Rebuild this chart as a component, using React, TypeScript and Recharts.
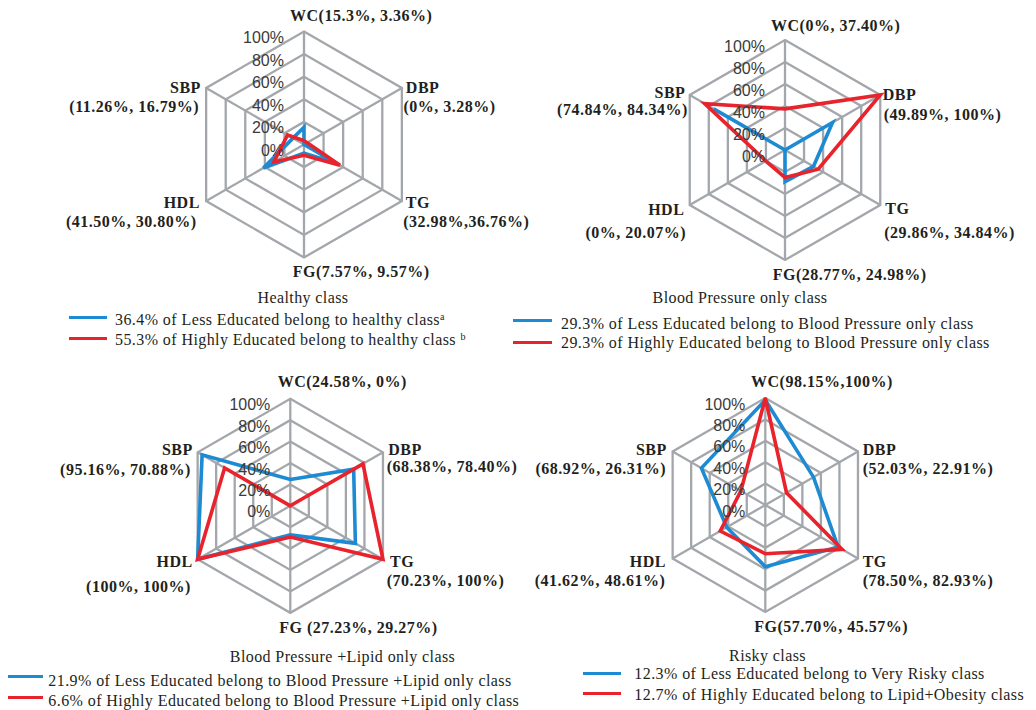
import React from 'react';
import { RadarChart, Radar, PolarGrid, PolarAngleAxis, PolarRadiusAxis, Legend } from 'recharts';

// ---------- data ----------
const axes = ['WC', 'DBP', 'TG', 'FG', 'HDL', 'SBP'];

const healthyLess = [15.3, 0, 32.98, 7.57, 41.5, 11.26];
const healthyHigh = [3.36, 3.28, 36.76, 9.57, 30.8, 16.79];
const bpLess = [0, 49.89, 29.86, 28.77, 0, 74.84];
const bpHigh = [37.4, 100, 34.84, 24.98, 20.07, 84.34];
const bplLess = [24.58, 68.38, 70.23, 27.23, 100, 95.16];
const bplHigh = [0, 78.4, 100, 29.27, 100, 70.88];
const riskyLess = [98.15, 52.03, 78.5, 57.7, 41.62, 68.92];
const riskyHigh = [100, 22.91, 82.93, 45.57, 48.61, 26.31];

const healthyLabels = [['WC(15.3%, 3.36%)'], ['DBP', '(0%, 3.28%)'], ['TG', '(32.98%,36.76%)'], ['FG(7.57%, 9.57%)'], ['HDL', '(41.50%, 30.80%)'], ['SBP', '(11.26%, 16.79%)']];
const bpLabels = [['WC(0%, 37.40%)'], ['DBP', '(49.89%, 100%)'], ['TG', '(29.86%, 34.84%)'], ['FG(28.77%, 24.98%)'], ['HDL', '(0%, 20.07%)'], ['SBP', '(74.84%, 84.34%)']];
const bplLabels = [['WC(24.58%, 0%)'], ['DBP', '(68.38%, 78.40%)'], ['TG', '(70.23%, 100%)'], ['FG (27.23%, 29.27%)'], ['HDL', '(100%, 100%)'], ['SBP', '(95.16%, 70.88%)']];
const riskyLabels = [['WC(98.15%,100%)'], ['DBP', '(52.03%, 22.91%)'], ['TG', '(78.50%, 82.93%)'], ['FG(57.70%, 45.57%)'], ['HDL', '(41.62%, 48.61%)'], ['SBP', '(68.92%, 26.31%)']];

const healthyTitle = 'Healthy class';
const bpTitle = 'Blood Pressure only class';
const bplTitle = 'Blood Pressure +Lipid only class';
const riskyTitle = 'Risky class';

const healthyNames = ['36.4% of Less Educated belong to healthy class', '55.3% of Highly Educated belong to healthy class '];
const healthySups = ['a', 'b'];
const bpNames = ['29.3% of Less Educated belong to Blood Pressure only class', '29.3% of Highly Educated belong to Blood Pressure only class'];
const bplNames = ['21.9% of Less Educated belong to Blood Pressure +Lipid only class', '6.6% of Highly Educated belong to Blood Pressure +Lipid only class'];
const riskyNames = ['12.3% of Less Educated belong to Very Risky class', '12.7% of Highly Educated belong to Lipid+Obesity class'];

const radiusTicks = [0, 20, 40, 60, 80, 100];
const seriesKeys = ['less', 'high'];

// ---------- styles ----------
const BLUE = '#1d8bd3';
const RED = '#e8232c';
const GRID = '#a3a7ab';
const TEXT = '#231f20';
const SERIF = "'Liberation Serif', 'Times New Roman', serif";
const SANS = "'Liberation Sans', Arial, sans-serif";
const PW = 600;
const PH = 355;

type Off = [number, number];
type LabelLayout = { anchor: ('start' | 'end')[]; offs: Off[][] };

const layout1: LabelLayout = {
  anchor: ['start', 'start', 'start', 'start', 'end', 'end'],
  offs: [[[-14, -15.7]], [[4, -0.7], [1.6, 18.7]], [[4, 1.3], [1.3, 20]], [[-11.3, 14.4]], [[-6.3, 1.7], [-9.6, 20]], [[-5.3, -0.7], [-7, 18]]],
};
const layout2: LabelLayout = {
  anchor: ['start', 'start', 'start', 'start', 'end', 'end'],
  offs: [[[-14, -14.7]], [[2.4, -1], [3.4, 19]], [[5, 3.3], [4, 27.7]], [[-12.3, 14.7]], [[-5.4, 4], [-3.7, 27.3]], [[-4.4, -2.2], [-2, 14.6]]],
};
const layout3: LabelLayout = {
  anchor: ['start', 'start', 'start', 'start', 'end', 'end'],
  offs: [[[-12.6, -17.1]], [[5.3, -3], [3.7, 13.7]], [[7, 2.4], [3.7, 21.4]], [[-11, 14.9]], [[-4.9, 2.4], [-6.9, 26.7]], [[-4.9, -3], [-6.9, 17]]],
};
const layout4: LabelLayout = {
  anchor: ['start', 'start', 'start', 'start', 'end', 'end'],
  offs: [[[-14.3, -16.3]], [[4.7, -2.2], [4.7, 16.8]], [[4.7, 3.2], [4.7, 22.2]], [[-11, 14.7]], [[-6.6, 3.2], [-7.3, 22.2]], [[-5.9, -2.2], [-6.6, 16.8]]],
};

type LegendLayout = {
  titleX: number; titleY: number;
  lineX1: number; lineX2: number; lineY: [number, number];
  textX: number; textY: [number, number];
};

const leg1: LegendLayout = { titleX: 303, titleY: 297.7, lineX1: 69, lineX2: 107, lineY: [317.7, 338.3], textX: 115, textY: [320, 340] };
const leg2: LegendLayout = { titleX: 222, titleY: 297.7, lineX1: -5, lineX2: 34, lineY: [320.7, 342.3], textX: 43, textY: [324, 343] };
const leg3: LegendLayout = { titleX: 342.5, titleY: 301.7, lineX1: 8.3, lineX2: 43.3, lineY: [321, 342.7], textX: 48.3, textY: [325.7, 345.7] };
const leg4: LegendLayout = { titleX: 249.5, titleY: 301, lineX1: 64.7, lineX2: 103, lineY: [318.3, 338.3], textX: 116.3, textY: [319.3, 340] };

const makeAngleTick = (labels: string[][], lay: LabelLayout) => (props: any) => {
  const { x, y, payload } = props;
  const idx = axes.indexOf(payload.value);
  const ang = (payload.coordinate * Math.PI) / 180;
  const vx = x - 8 * Math.cos(ang);
  const vy = y + 8 * Math.sin(ang);
  return (
    <g>
      {labels[idx].map((t, i) => (
        <text
          key={i}
          x={vx + lay.offs[idx][i][0]}
          y={vy + lay.offs[idx][i][1]}
          textAnchor={lay.anchor[idx]}
          dominantBaseline="central"
          fontFamily={SERIF}
          fontWeight="bold"
          fontSize={16}
          letterSpacing={0.5}
          fill={TEXT}
        >
          {t}
        </text>
      ))}
    </g>
  );
};

const RadiusTick = (props: any) => {
  const { x, y, payload } = props;
  return (
    <text x={x - 20} y={y + 6} textAnchor="end" dominantBaseline="central" fontFamily={SANS} fontSize={16} fill="#3a3a3a">
      {`${payload.value}%`}
    </text>
  );
};

const makeLegend = (title: string, lay: LegendLayout, sups?: string[]) => (props: any) => {
  const raw = props.payload || [];
  const payload = [...raw].sort(
    (a: any, b: any) => seriesKeys.indexOf(a.dataKey) - seriesKeys.indexOf(b.dataKey)
  );
  const textStyle: React.CSSProperties = {
    position: 'absolute',
    whiteSpace: 'nowrap',
    fontFamily: SERIF,
    fontSize: 16,
    letterSpacing: 0.42,
    lineHeight: '20px',
    color: TEXT,
  };
  return (
    <div style={{ position: 'relative', width: PW, height: PH }}>
      <div style={{ ...textStyle, left: lay.titleX, top: lay.titleY - 10, transform: 'translateX(-50%)', letterSpacing: 0.4 }}>{title}</div>
      {payload.map((entry: any, i: number) => (
        <React.Fragment key={i}>
          <div
            style={{
              position: 'absolute',
              left: lay.lineX1,
              top: lay.lineY[i] - 1.5,
              width: lay.lineX2 - lay.lineX1,
              height: 3,
              background: entry.color,
            }}
          />
          <div style={{ ...textStyle, left: lay.textX, top: lay.textY[i] - 10 }}>
            {entry.value}
            {sups && sups[i] ? <sup style={{ fontSize: 10, verticalAlign: 'top', lineHeight: '14px' }}>{sups[i]}</sup> : null}
          </div>
        </React.Fragment>
      ))}
    </div>
  );
};

type PanelProps = {
  left: number; top: number;
  cx: number; cy: number; r: number;
  less: number[]; high: number[];
  names: string[]; labels: string[][];
  lay: LabelLayout; title: string; leg: LegendLayout; sups?: string[];
};

const Panel = (p: PanelProps) => {
  const data = axes.map((a, i) => ({ axis: a, less: p.less[i], high: p.high[i] }));
  return (
    <div style={{ position: 'absolute', left: p.left, top: p.top, width: PW, height: PH }}>
      <RadarChart
        width={PW}
        height={PH}
        data={data}
        cx={p.cx}
        cy={p.cy}
        outerRadius={p.r}
        margin={{ top: 0, right: 0, bottom: 0, left: 0 }}
      >
        <PolarGrid gridType="polygon" stroke={GRID} strokeWidth={2.3} strokeOpacity={1} />
        <PolarAngleAxis dataKey="axis" tick={makeAngleTick(p.labels, p.lay)} tickLine={false} axisLine={false} />
        <PolarRadiusAxis
          angle={90}
          domain={[0, 100]}
          ticks={radiusTicks as any}
          tickCount={6}
          tick={RadiusTick}
          axisLine={false}
          tickLine={false}
        />
        <Radar name={p.names[0]} dataKey="less" stroke={BLUE} strokeWidth={3.6} fill="none" fillOpacity={0} dot={false} isAnimationActive={false} />
        <Radar name={p.names[1]} dataKey="high" stroke={RED} strokeWidth={3.6} fill="none" fillOpacity={0} dot={false} isAnimationActive={false} />
        <Legend
          layout="horizontal"
          verticalAlign="middle"
          align="center"
          itemSorter={(item: any) => seriesKeys.indexOf(item.dataKey)}
          content={makeLegend(p.title, p.leg, p.sups)}
          wrapperStyle={{ position: 'absolute', left: 0, top: 0, width: PW, height: PH, pointerEvents: 'none' }}
        />
      </RadarChart>
    </div>
  );
};

export default function App() {
  return (
    <div style={{ position: 'absolute', left: 0, top: 0, width: 1036, height: 710, background: '#fff', overflow: 'hidden' }}>
      <Panel left={0} top={0} cx={304} cy={144.5} r={113} less={healthyLess} high={healthyHigh} names={healthyNames} labels={healthyLabels} lay={layout1} title={healthyTitle} leg={leg1} sups={healthySups} />
      <Panel left={518} top={0} cx={267} cy={150} r={110} less={bpLess} high={bpHigh} names={bpNames} labels={bpLabels} lay={layout2} title={bpTitle} leg={leg2} />
      <Panel left={0} top={355} cx={290.3} cy={150.8} r={107} less={bplLess} high={bplHigh} names={bplNames} labels={bplLabels} lay={layout3} title={bplTitle} leg={leg3} />
      <Panel left={518} top={355} cx={247.3} cy={150} r={107} less={riskyLess} high={riskyHigh} names={riskyNames} labels={riskyLabels} lay={layout4} title={riskyTitle} leg={leg4} />
    </div>
  );
}
